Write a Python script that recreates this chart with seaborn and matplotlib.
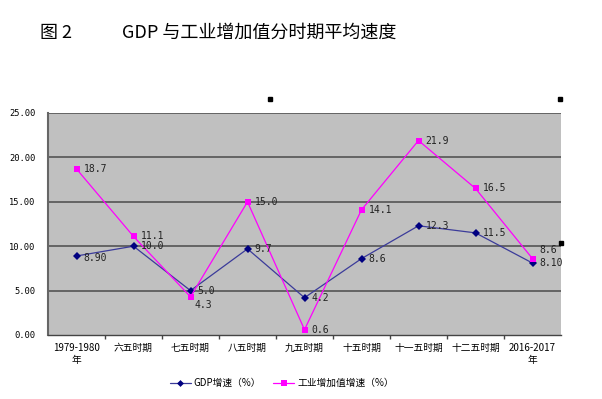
import matplotlib
matplotlib.use("Agg")
import matplotlib.pyplot as plt
import seaborn as sns
import pandas as pd
import numpy as np
from matplotlib.lines import Line2D

categories = ["1979-1980\n年", "六五时期", "七五时期", "八五时期", "九五时期",
              "十五时期", "十一五时期", "十二五时期", "2016-2017\n年"]
gdp = [8.90, 10.0, 5.0, 9.7, 4.2, 8.6, 12.3, 11.5, 8.10]
gdp_labels = ["8.90", "10.0", "5.0", "9.7", "4.2", "8.6", "12.3", "11.5", "8.10"]
ind = [18.7, 11.1, 4.3, 15.0, 0.6, 14.1, 21.9, 16.5, 8.6]
ind_labels = ["18.7", "11.1", "4.3", "15.0", "0.6", "14.1", "21.9", "16.5", "8.6"]
yticks = [0, 5, 10, 15, 20, 25]
series_names = ["GDP增速（%）", "工业增加值增速（%）"]

sns.set_theme(style="white")
plt.rcParams['font.family'] = ['Noto Sans CJK SC', 'DejaVu Sans']
plt.rcParams['text.color'] = 'black'
plt.rcParams['xtick.color'] = 'black'
plt.rcParams['ytick.color'] = 'black'

df = pd.DataFrame({
    "x": list(range(len(categories))) * 2,
    "value": gdp + ind,
    "series": [series_names[0]] * len(gdp) + [series_names[1]] * len(ind),
})

fig = plt.figure(figsize=(6.02, 3.99), dpi=100)
ax = fig.add_axes([48/602, 1-335/399, (561-48)/602, (335-113)/399])
ax.set_facecolor("#C0C0C0")

pal = {series_names[0]: "#3B3B9A", series_names[1]: "#FF00FF"}
sns.lineplot(data=df, x="x", y="value", hue="series", style="series",
             palette=pal, markers={series_names[0]: "D", series_names[1]: "s"},
             dashes=False, sort=False, ax=ax, legend=False, linewidth=0.9,
             markersize=4.5, markeredgewidth=0)
for ln in ax.lines:
    if ln.get_color() == "#3B3B9A":
        ln.set_markerfacecolor("#000080")
        ln.set_markersize(3.8)

ax.set_xlim(-0.5, len(categories) - 0.5)
ax.set_ylim(0, 25)
ax.set_yticks(yticks)
ax.set_yticklabels([f"{v:.2f}" for v in yticks], fontsize=6.3, family="DejaVu Sans Mono")
ax.set_xticks(range(len(categories)))
ax.set_xticklabels(categories, fontsize=7, linespacing=1.2)
ax.set_xticks(np.arange(0.5, len(categories) - 0.5, 1), minor=True)
ax.tick_params(axis="x", which="major", length=0, pad=6)
ax.tick_params(axis="x", which="minor", length=3, direction="out", color="#444444", bottom=True)
ax.tick_params(axis="y", length=0, pad=9)
ax.set_xlabel("")
ax.set_ylabel("")
for yv in yticks[1:]:
    ax.axhline(yv, color="#555555", linewidth=1.2, zorder=0.5)
for s in ["top", "right"]:
    ax.spines[s].set_visible(False)
ax.spines["left"].set_color("#666666")
ax.spines["left"].set_linewidth(1.5)
ax.spines["bottom"].set_color("#444444")
ax.spines["bottom"].set_linewidth(1.0)

lf = dict(fontsize=7, family="DejaVu Sans Mono", color="#222222")
for i, (v, t) in enumerate(zip(gdp, gdp_labels)):
    ax.annotate(t, (i, v), xytext=(5, -1.5 if i == 0 else 0), textcoords="offset points",
                va="center", ha="left", **lf)
for i, (v, t) in enumerate(zip(ind, ind_labels)):
    if i == 2:
        off = (3, -6)
    elif i == 8:
        off = (5, 6)
    else:
        off = (5, 0)
    ax.annotate(t, (i, v), xytext=off, textcoords="offset points",
                va="center", ha="left", **lf)

handles = [Line2D([], [], color="#3B3B9A", marker="D", markerfacecolor="#000080",
                  markeredgewidth=0, markersize=3.5, linewidth=0.9),
           Line2D([], [], color="#FF00FF", marker="s", markeredgewidth=0,
                  markersize=4.5, linewidth=0.9)]
fig.legend(handles, series_names, loc="center", bbox_to_anchor=(0.468, 1-383/399),
           ncol=2, frameon=False, fontsize=7, handlelength=2.2, columnspacing=1.2,
           handletextpad=0.3)

fig.text(40/602, 1-33/399, "图 2", fontsize=13, va="center", ha="left")
fig.text(122/602, 1-33/399, "GDP 与工业增加值分时期平均速度", fontsize=13,
         va="center", ha="left")
for (px, py) in [(270, 99), (560, 99), (561, 243)]:
    fig.patches.append(plt.Rectangle(((px-2)/602, 1-(py+2)/399), 4/602, 4/399,
                                     transform=fig.transFigure, color="black"))

fig.savefig("out.png", dpi=100)
